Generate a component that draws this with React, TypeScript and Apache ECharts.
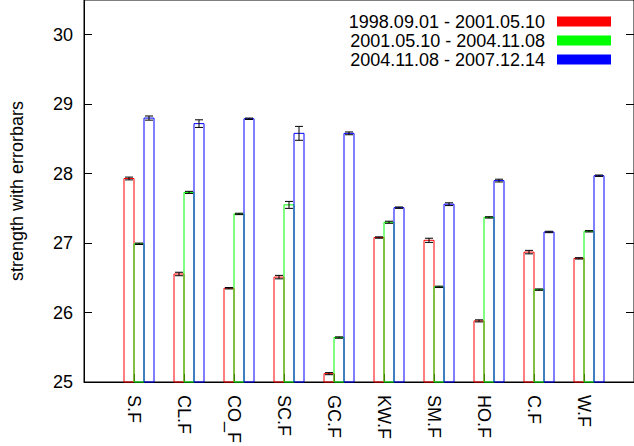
import React, { useEffect, useRef } from 'react';
import * as echarts from 'echarts';

const categories = ['S.F', 'CL.F', 'CO_F', 'SC.F', 'GC.F', 'KW.F', 'SM.F', 'HO.F', 'C.F', 'W.F'];
const seriesNames = ['1998.09.01 - 2001.05.10', '2001.05.10 - 2004.11.08', '2004.11.08 - 2007.12.14'];
const seriesColors = ['#ff0000', '#00ff00', '#0000ff'];

const period1Values = [27.93, 26.555, 26.35, 26.51, 25.12, 27.08, 27.04, 25.88, 26.87, 26.78];
const period1Errors = [0.02, 0.025, 0.01, 0.025, 0.015, 0.01, 0.03, 0.015, 0.025, 0.01];
const period2Values = [26.99, 27.73, 27.42, 27.55, 25.64, 27.3, 26.37, 27.37, 26.33, 27.17];
const period2Errors = [0.01, 0.015, 0.01, 0.05, 0.01, 0.015, 0.01, 0.01, 0.01, 0.01];
const period3Values = [28.8, 28.72, 28.79, 28.58, 28.58, 27.51, 27.56, 27.9, 27.16, 27.97];
const period3Errors = [0.03, 0.055, 0.01, 0.1, 0.02, 0.01, 0.02, 0.02, 0.01, 0.01];

const yTicks = [25, 26, 27, 28, 29, 30];
const xTickPositions = [1, 2, 3, 4, 5, 6, 7, 8, 9, 10];

const allValues = [period1Values, period2Values, period3Values];
const allErrors = [period1Errors, period2Errors, period3Errors];

const Y_MIN = 25;
const Y_MAX = 30.5;
const BAR_WIDTH = 0.2;
const BAR_OFFSETS = [-0.1, 0.1, 0.3];
const CAP_HALF = 4;
const FONT = "'Liberation Sans', Arial, Helvetica, sans-serif";

export default function App() {
  const ref = useRef<HTMLDivElement>(null);

  useEffect(() => {
    if (!ref.current) return;
    const chart = echarts.init(ref.current, undefined, { renderer: 'svg' });

    const series = seriesNames.map((name, s) => ({
      name,
      type: 'custom',
      itemStyle: { color: seriesColors[s] },
      encode: { x: 0, y: 1 },
      data: categories.map((_, i) => [i + 1 + BAR_OFFSETS[s], allValues[s][i], allErrors[s][i]]),
      renderItem: (params: any, api: any) => {
        const x = api.value(0);
        const v = api.value(1);
        const e = api.value(2);
        const tl = api.coord([x - BAR_WIDTH / 2, v]);
        const br = api.coord([x + BAR_WIDTH / 2, Y_MIN]);
        const c = api.coord([x, v]);
        const hi = api.coord([x, v + e]);
        const lo = api.coord([x, v - e]);
        return {
          type: 'group',
          children: [
            {
              type: 'rect',
              shape: { x: tl[0], y: tl[1], width: br[0] - tl[0], height: br[1] - tl[1] },
              style: { fill: 'none', stroke: seriesColors[s], lineWidth: 1 },
            },
            {
              type: 'line',
              shape: { x1: c[0], y1: hi[1], x2: c[0], y2: lo[1] },
              style: { stroke: '#000', lineWidth: 1 },
            },
            {
              type: 'line',
              shape: { x1: c[0] - CAP_HALF, y1: hi[1], x2: c[0] + CAP_HALF, y2: hi[1] },
              style: { stroke: '#000', lineWidth: 1 },
            },
            {
              type: 'line',
              shape: { x1: c[0] - CAP_HALF, y1: lo[1], x2: c[0] + CAP_HALF, y2: lo[1] },
              style: { stroke: '#000', lineWidth: 1 },
            },
          ],
        };
      },
    }));

    chart.setOption({
      animation: false,
      backgroundColor: '#ffffff',
      textStyle: { fontFamily: FONT },
      grid: {
        left: 82,
        top: 0,
        width: 556,
        height: 382,
        show: true,
        borderColor: '#000',
        borderWidth: 1,
        backgroundColor: 'transparent',
      },
      legend: {
        orient: 'vertical',
        right: 18,
        top: 7,
        align: 'right',
        icon: 'rect',
        itemWidth: 54,
        itemHeight: 10,
        itemGap: 0,
        data: seriesNames,
        textStyle: {
          fontFamily: FONT,
          fontSize: 18,
          color: '#000',
          lineHeight: 19,
          padding: [0, 7, 0, 0],
        },
      },
      xAxis: {
        type: 'value',
        min: 0,
        max: 11,
        splitLine: { show: false },
        axisLine: { show: true, lineStyle: { color: '#000', width: 1 } },
        axisTick: {
          show: true,
          inside: true,
          length: 8,
          customValues: xTickPositions,
          lineStyle: { color: '#000' },
        },
        axisLabel: {
          show: true,
          customValues: xTickPositions,
          rotate: -90,
          margin: 13,
          fontSize: 18,
          fontFamily: FONT,
          color: '#000',
          formatter: (v: number) => categories[Math.round(v) - 1] ?? '',
        },
      },
      yAxis: [
        {
          type: 'value',
          min: Y_MIN,
          max: Y_MAX,
          position: 'left',
          name: 'strength with errorbars',
          nameLocation: 'middle',
          nameRotate: 90,
          nameGap: 58,
          nameTextStyle: { fontFamily: FONT, fontSize: 18, color: '#000' },
          splitLine: { show: false },
          axisLine: { show: true, lineStyle: { color: '#000', width: 1 } },
          axisTick: {
            show: true,
            inside: true,
            length: 8,
            customValues: yTicks,
            lineStyle: { color: '#000' },
          },
          axisLabel: {
            show: true,
            customValues: yTicks,
            margin: 11,
            fontSize: 18,
            fontFamily: FONT,
            color: '#000',
          },
        },
        {
          type: 'value',
          min: Y_MIN,
          max: Y_MAX,
          position: 'right',
          splitLine: { show: false },
          axisLine: { show: true, lineStyle: { color: '#000', width: 1 } },
          axisTick: {
            show: true,
            inside: true,
            length: 8,
            customValues: yTicks,
            lineStyle: { color: '#000' },
          },
          axisLabel: { show: false },
        },
      ],
      series,
    });

    return () => chart.dispose();
  }, []);

  return (
    <div
      ref={ref}
      style={{ position: 'fixed', left: 0, top: 0, width: 634, height: 446, background: '#fff' }}
    />
  );
}
